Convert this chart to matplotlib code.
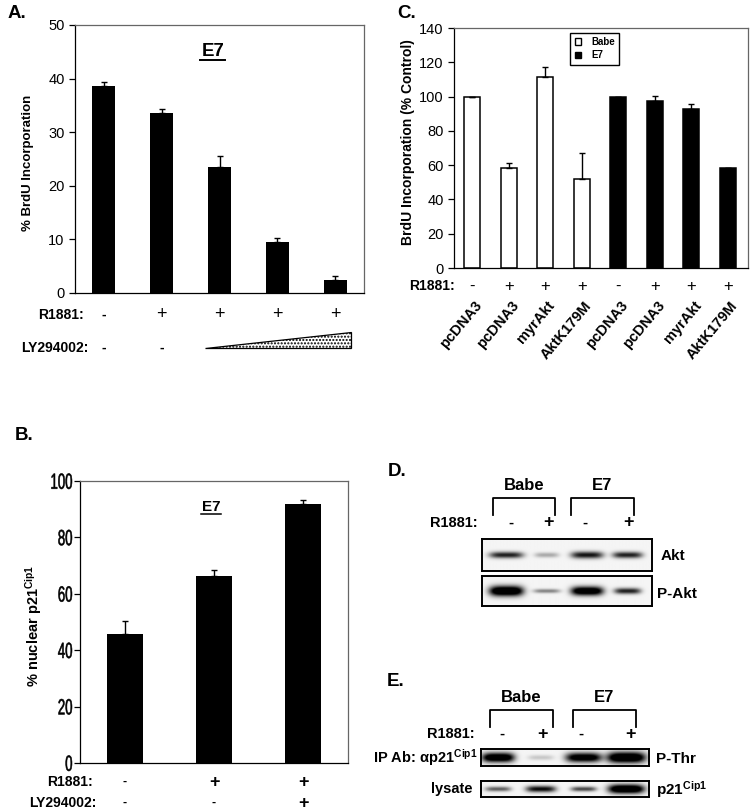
import numpy as np
import matplotlib
matplotlib.use('Agg')
import matplotlib.pyplot as plt
from matplotlib.patches import Polygon, Patch, PathPatch
from matplotlib.textpath import TextPath
from matplotlib.font_manager import FontProperties
from matplotlib.transforms import Affine2D

plt.rcParams['font.family'] = ['Liberation Sans', 'DejaVu Sans']
plt.rcParams['mathtext.fontset'] = 'custom'
plt.rcParams['mathtext.rm'] = 'Liberation Sans'
plt.rcParams['mathtext.bf'] = 'Liberation Sans:bold'
plt.rcParams['mathtext.it'] = 'Liberation Sans:italic'

# ---- panel A: BrdU in E7 cells, LY294002 dose ramp
a_vals = [38.7, 33.6, 23.6, 9.5, 2.4]
a_err = [0.6, 0.8, 2.0, 0.75, 0.8]
a_r1881 = ['-', '+', '+', '+', '+']
a_ly = ['-', '-']

# ---- panel B: nuclear p21
b_vals = [45.9, 66.3, 91.8]
b_err = [4.4, 2.1, 1.5]
b_r1881 = ['-', '+', '+']
b_ly = ['-', '-', '+']
b_ticks = [0, 20, 40, 60, 80, 100]

# ---- panel C: BrdU (% control), Babe vs E7
c_labels = ['pcDNA3', 'pcDNA3', 'myrAkt', 'AktK179M',
            'pcDNA3', 'pcDNA3', 'myrAkt', 'AktK179M']
c_babe = [100, 58.5, 111.2, 52]
c_babe_err = [0, 2.7, 5.8, 15]
c_e7 = [100, 97.6, 92.8, 58.2]
c_e7_err = [0, 2.9, 2.7, 0]
c_r1881 = ['-', '+', '+', '+', '-', '+', '+', '+']

# ---- blots (relative band strength, half width, thickness)
lanes = [1, 2, 3, 4]
d_akt = [0.85, 0.3, 0.9, 0.85]
d_akt_w = [0.42, 0.3, 0.4, 0.37]
d_akt_t = [0.10, 0.08, 0.11, 0.10]
d_pakt = [1.4, 0.45, 1.3, 0.85]
d_pakt_w = [0.42, 0.33, 0.4, 0.33]
d_pakt_t = [0.17, 0.07, 0.15, 0.10]
e_pthr = [1.3, 0.18, 1.2, 1.4]
e_pthr_w = [0.38, 0.3, 0.42, 0.45]
e_pthr_t = [0.28, 0.15, 0.28, 0.32]
e_lys = [0.6, 0.95, 0.7, 1.4]
e_lys_w = [0.3, 0.35, 0.3, 0.42]
e_lys_t = [0.15, 0.2, 0.15, 0.28]

W, H = 754, 810
fig = plt.figure(figsize=(W / 100, H / 100), dpi=100)


def add_ax(x0, y0, x1, y1):
    return fig.add_axes([x0 / W, 1 - y1 / H, (x1 - x0) / W, (y1 - y0) / H])


def style_bar_ax(ax):
    for s in ax.spines.values():
        s.set_linewidth(0.9)
    ax.spines['top'].set_color('#666666')
    ax.spines['right'].set_color('#666666')
    ax.set_xticks([])
    ax.tick_params(axis='y', direction='out', length=4, width=0.9)


# overlay in pixel coordinates for labels/brackets
ov = fig.add_axes([0, 0, 1, 1], zorder=5)
ov.set_xlim(0, W)
ov.set_ylim(H, 0)
ov.axis('off')

# ================= A
axA = add_ax(75, 25, 364, 293)
xa = np.arange(len(a_vals))
axA.bar(xa, a_vals, width=0.4, color='black')
axA.errorbar(xa, a_vals, yerr=[np.zeros(len(a_err)), a_err], fmt='none',
             ecolor='black', elinewidth=1, capsize=2.2)
axA.set_xlim(-0.5, 4.5)
axA.set_ylim(0, 50)
axA.set_yticks(range(0, 51, 10))
style_bar_ax(axA)
axA.tick_params(axis='y', labelsize=10.5)
axA.set_ylabel('% BrdU Incorporation', fontsize=9.5, fontweight='bold')
axA.yaxis.set_label_coords(-0.163, 0.485)
axA.yaxis.label.set_va('center')
axA.text(0.477, 0.9, 'E7', transform=axA.transAxes, ha='center', va='center',
         fontsize=13.5, fontweight='bold')
axA.plot([0.434, 0.52], [0.87, 0.87], transform=axA.transAxes, color='black', lw=1.4)
tA = axA.get_xaxis_transform()
for i, s in enumerate(a_r1881):
    axA.text(i, -0.082, s, transform=tA, ha='center', va='center',
             fontsize=13 if s == '+' else 10, fontweight='normal' if s == '+' else 'bold',
             clip_on=False)
for i, s in enumerate(a_ly):
    axA.text(i, -0.205, s, transform=tA, ha='center', va='center', fontsize=10,
             fontweight='bold', clip_on=False)
ramp = Polygon([[1.75, -0.207], [4.27, -0.207], [4.27, -0.146]], closed=True,
               transform=tA, facecolor='white', edgecolor='black', lw=0.9,
               hatch='.....', clip_on=False)
axA.add_patch(ramp)
ov.text(84, 315, 'R1881:', ha='right', va='center', fontsize=10, fontweight='bold')
ov.text(88, 348, 'LY294002:', ha='right', va='center', fontsize=10, fontweight='bold')
ov.text(8, 14, 'A.', ha='left', va='center', fontsize=13.5, fontweight='bold')

# ================= C
axC = add_ax(454, 28, 748, 268)
xc = np.arange(len(c_labels))
axC.bar(xc[:4], c_babe, width=0.44, color='white', edgecolor='black', lw=1.1)
axC.bar(xc[4:], c_e7, width=0.44, color='black', edgecolor='black', lw=1.1)
axC.errorbar(xc[:4], c_babe, yerr=[np.zeros(4), c_babe_err], fmt='none',
             ecolor='black', elinewidth=1, capsize=2)
axC.errorbar(xc[4:], c_e7, yerr=[np.zeros(4), c_e7_err], fmt='none',
             ecolor='black', elinewidth=1, capsize=2)
axC.set_xlim(-0.5, 7.55)
axC.set_ylim(0, 140)
axC.set_yticks(range(0, 141, 20))
style_bar_ax(axC)
axC.tick_params(axis='y', labelsize=10.5)
axC.set_ylabel('BrdU Incorporation (% Control)', fontsize=10, fontweight='bold')
axC.yaxis.set_label_coords(-0.156, 0.525)
axC.yaxis.label.set_va('center')
leg = axC.legend(handles=[Patch(facecolor='white', edgecolor='black'),
                          Patch(facecolor='black', edgecolor='black')],
                 labels=['Babe', 'E7'], loc='upper left', bbox_to_anchor=(0.395, 0.981),
                 fancybox=False, edgecolor='black', framealpha=1,
                 prop={'size': 7, 'weight': 'bold'}, handlelength=0.7,
                 handleheight=0.7, handletextpad=1.0, borderpad=0.45,
                 labelspacing=0.35, borderaxespad=0)
leg.get_frame().set_linewidth(1.0)
tC = axC.get_xaxis_transform()
for i, s in enumerate(c_r1881):
    axC.text(i, -0.075, s, transform=tC, ha='center', va='center', fontsize=12,
             clip_on=False)
for i, lab in enumerate(c_labels):
    axC.text(i + 0.05, -0.128, lab, transform=tC, ha='right', va='top', rotation=50,
             rotation_mode='anchor', fontsize=10.5, fontweight='bold', clip_on=False)
ov.text(455, 286, 'R1881:', ha='right', va='center', fontsize=10, fontweight='bold')
ov.text(397, 14, 'C.', ha='left', va='center', fontsize=13.5, fontweight='bold')

# ================= B
axB = add_ax(80, 481, 348, 763)
xb = np.arange(len(b_vals))
axB.bar(xb, b_vals, width=0.4, color='black')
axB.errorbar(xb, b_vals, yerr=[np.zeros(3), b_err], fmt='none', ecolor='black',
             elinewidth=1, capsize=2.2)
axB.set_xlim(-0.5, 2.5)
axB.set_ylim(0, 100)
axB.set_yticks(b_ticks)
style_bar_ax(axB)
axB.tick_params(axis='y', labelleft=False)
# condensed tick labels (narrow font is not installed: squeeze the glyph outlines)
fp = FontProperties(family='Liberation Sans')
for v in b_ticks:
    tp = TextPath((0, 0), str(v), size=22, prop=fp)
    ext = tp.get_extents()
    xd, yd = axB.transData.transform((-0.5, v))
    tr = Affine2D().translate(-ext.x1, -ext.height / 2).scale(0.6, 1.0) \
        .translate(xd - 8, yd)
    fig.add_artist(PathPatch(tp, transform=tr, facecolor='black', edgecolor='black',
                             lw=0.4))
axB.set_ylabel(r'% nuclear $\mathbf{p21^{Cip1}}$', fontsize=10.5, fontweight='bold')
axB.yaxis.set_label_coords(-0.175, 0.486)
axB.yaxis.label.set_va('center')
axB.text(0.489, 0.908, 'E7', transform=axB.transAxes, ha='center', va='center',
         fontsize=11, fontweight='bold')
axB.plot([0.452, 0.526], [0.884, 0.884], transform=axB.transAxes, color='black', lw=1.1)
tB = axB.get_xaxis_transform()
for i, s in enumerate(b_r1881):
    axB.text(i, -0.068, s, transform=tB, ha='center', va='center',
             fontsize=13 if s == '+' else 9, fontweight='bold', clip_on=False)
for i, s in enumerate(b_ly):
    axB.text(i, -0.142, s, transform=tB, ha='center', va='center',
             fontsize=13 if s == '+' else 9, fontweight='bold', clip_on=False)
ov.text(93, 782, 'R1881:', ha='right', va='center', fontsize=10, fontweight='bold')
ov.text(97, 803, 'LY294002:', ha='right', va='center', fontsize=10, fontweight='bold')
ov.text(15, 436, 'B.', ha='left', va='center', fontsize=13.5, fontweight='bold')


# ================= blots
def draw_blot(box, xlim, strength, width, thick):
    ax = add_ax(*box)
    xs = np.linspace(xlim[0], xlim[1], 500)
    ys = np.linspace(0, 1, 120)
    X, Y = np.meshgrid(xs, ys)
    img = np.full(X.shape, 0.04)
    for xc_, s, w, t in zip(lanes, strength, width, thick):
        img += s * np.exp(-np.abs((X - xc_) / w) ** 4) * np.exp(-((Y - 0.5) / t) ** 2)
    ax.imshow(img, extent=[xlim[0], xlim[1], 0, 1], origin='lower', aspect='auto',
              cmap='gray_r', vmin=0, vmax=1, interpolation='bilinear')
    ax.set_xlim(*xlim)
    ax.set_ylim(0, 1)
    ax.set_xticks([])
    ax.set_yticks([])
    for s in ax.spines.values():
        s.set_linewidth(1.4)
    return ax


def header(y_lab, y_top, babe_x, e7_x, y_r, signs_x, r_right):
    ov.text(sum(babe_x) / 2, y_lab, 'Babe', ha='center', va='center', fontsize=12,
            fontweight='bold')
    ov.text(sum(e7_x) / 2, y_lab, 'E7', ha='center', va='center', fontsize=12,
            fontweight='bold')
    for (x0, x1) in (babe_x, e7_x):
        ov.plot([x0, x0, x1, x1], [y_top + 17, y_top, y_top, y_top + 17], color='black',
                lw=1.3)
    ov.text(r_right, y_r, 'R1881:', ha='right', va='center', fontsize=10.5, fontweight='bold')
    for x, s in zip(signs_x, ['-', '+', '-', '+']):
        ov.text(x, y_r, s, ha='center', va='center', fontsize=13 if s == '+' else 11,
                fontweight='bold')


# D
ov.text(388, 472, 'D.', ha='left', va='center', fontsize=13.5, fontweight='bold')
header(486, 498, (493, 555), (571, 634), 523, [511, 548, 585, 628], 478)
draw_blot((482, 539, 652, 571), (0.4, 4.6), d_akt, d_akt_w, d_akt_t)
draw_blot((482, 576, 652, 606), (0.4, 4.6), d_pakt, d_pakt_w, d_pakt_t)
ov.text(661, 556, 'Akt', ha='left', va='center', fontsize=11, fontweight='bold')
ov.text(657, 594, 'P-Akt', ha='left', va='center', fontsize=11, fontweight='bold')

# E
ov.text(387, 682, 'E.', ha='left', va='center', fontsize=13.5, fontweight='bold')
header(698, 710, (490, 553), (573, 636), 734, [502, 543, 581, 630], 475)
draw_blot((481, 749, 649, 766), (0.6, 4.55), e_pthr, e_pthr_w, e_pthr_t)
draw_blot((481, 781, 649, 797), (0.6, 4.55), e_lys, e_lys_w, e_lys_t)
ov.text(478, 758, r'IP Ab: $\mathbf{\alpha p21^{Cip1}}$', ha='right', va='center',
        fontsize=10.5, fontweight='bold')
ov.text(472, 789, 'lysate', ha='right', va='center', fontsize=10.5, fontweight='bold')
ov.text(656, 759, 'P-Thr', ha='left', va='center', fontsize=11, fontweight='bold')
ov.text(656, 790, r'$\mathbf{p21^{Cip1}}$', ha='left', va='center', fontsize=11)

fig.savefig('out.png', dpi=100)
